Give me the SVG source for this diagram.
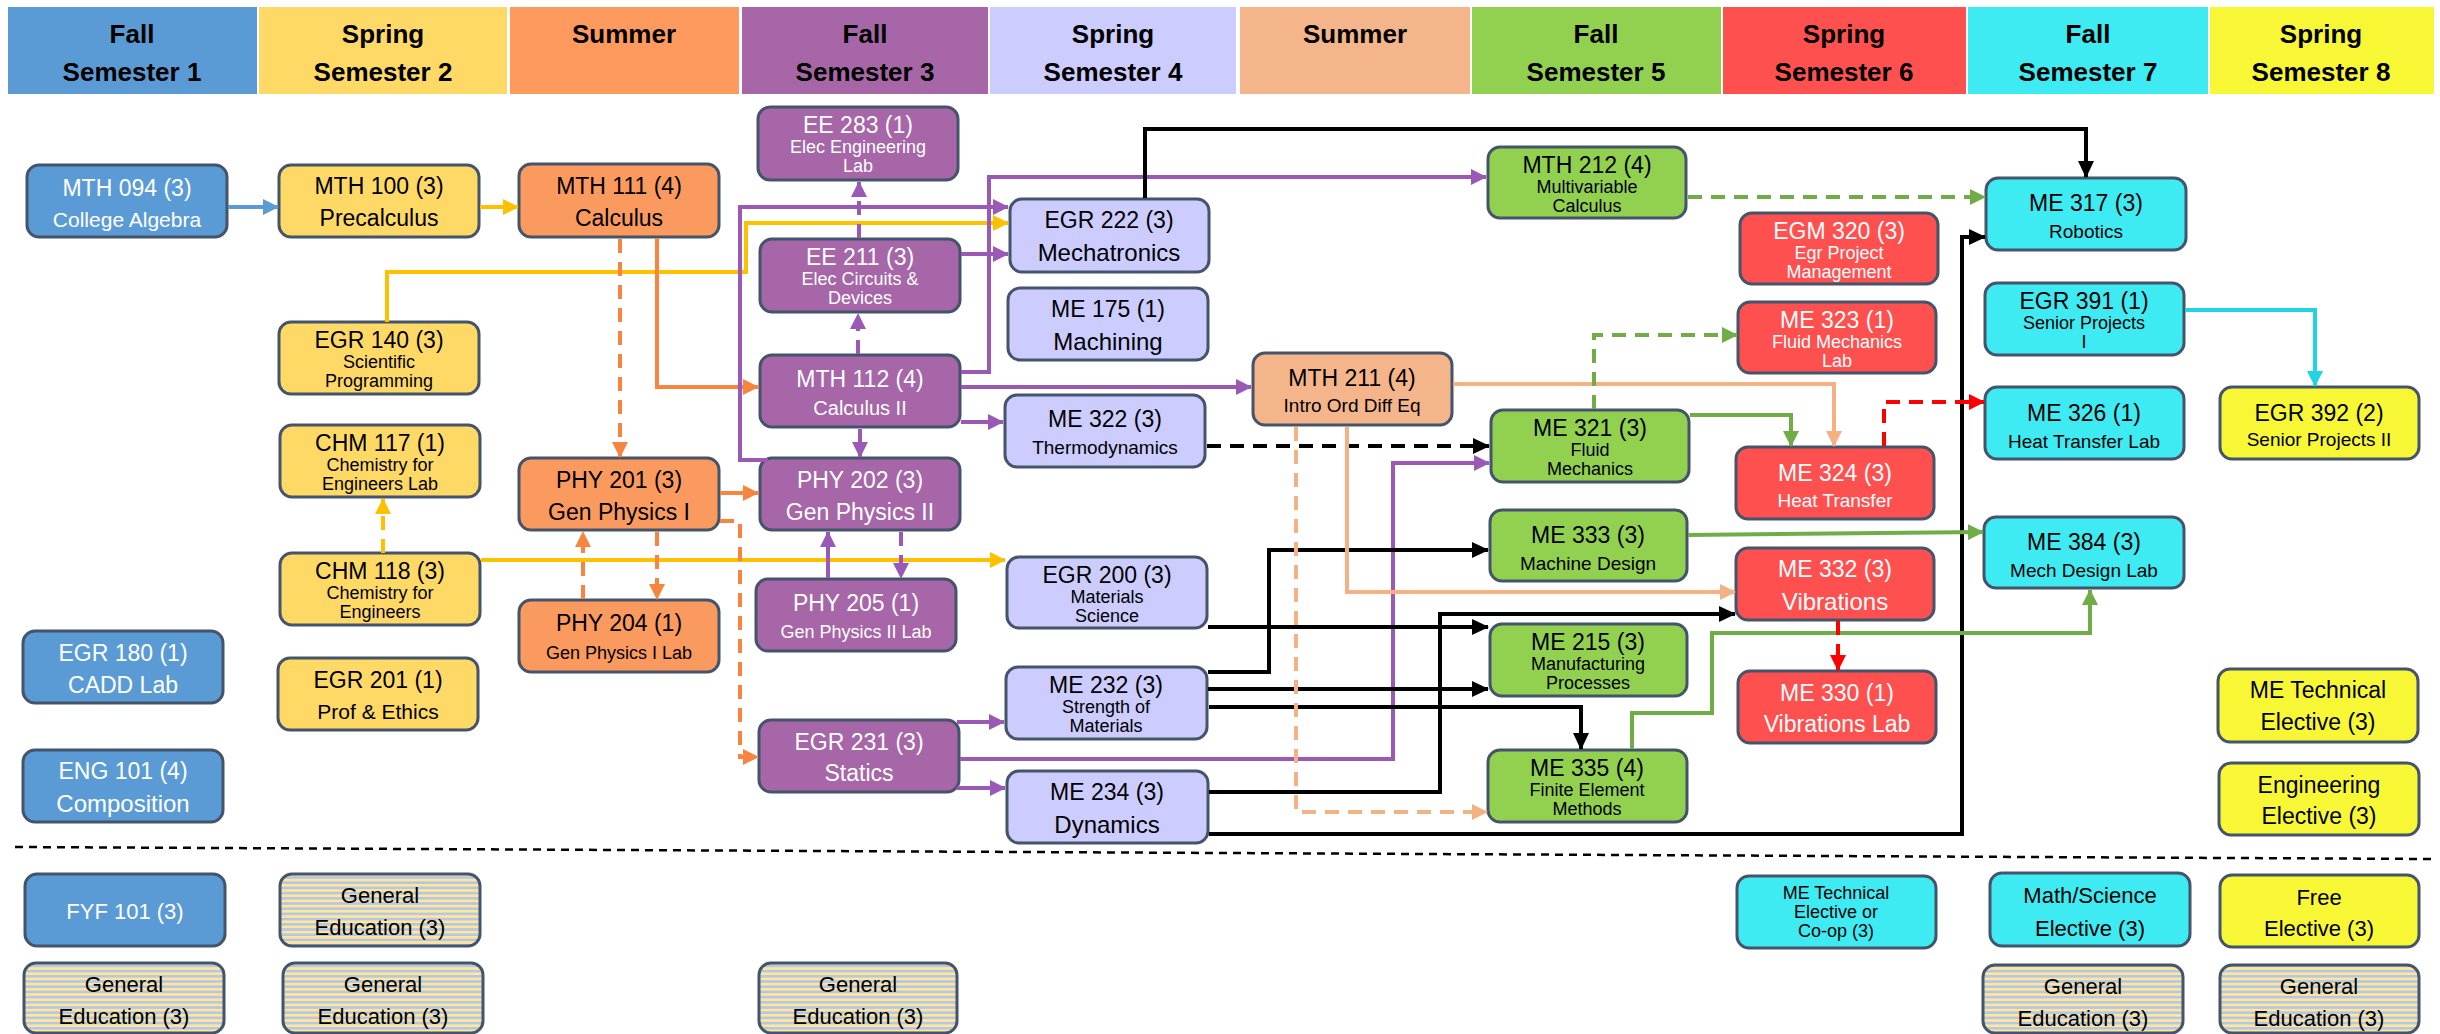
<svg xmlns="http://www.w3.org/2000/svg" width="2440" height="1034" viewBox="0 0 2440 1034">
<style>
text{font-family:"Liberation Sans",Arial,sans-serif;text-anchor:middle;dominant-baseline:central}
.hd{font-weight:bold;font-size:26px;fill:#000}
.n{stroke:#44546A;stroke-width:3}
.t{font-size:23px}
.w{fill:#fff}
.k{fill:#000}
.blue{fill:#5B9BD5}.yel{fill:#FFD966}.org{fill:#FB9A5E}.pur{fill:#A666A8}.lav{fill:#CCCCFF}
.lor{fill:#F4B58A}.grn{fill:#92D050}.red{fill:#FF5050}.cyn{fill:#3EEBF3}.yl8{fill:#F7F736}.gen{fill:url(#stripes)}
.c{fill:none;stroke-width:4}
.d{stroke-dasharray:14 9}
.cB{stroke:#5B9BD5}.cY{stroke:#FFC000}.cO{stroke:#F7843F}.cP{stroke:#9B59B6}.cK{stroke:#000}
.cL{stroke:#F4B183}.cG{stroke:#70AD47}.cR{stroke:#FF0000}.cC{stroke:#22D3E3}
</style>
<defs>
<pattern id="stripes" width="8" height="5.2" patternUnits="userSpaceOnUse"><rect width="8" height="5.2" fill="#FFE699"/><rect y="2.6" width="8" height="2.6" fill="#B4C7E7"/></pattern>
<marker id="aB" markerWidth="16" markerHeight="16" refX="15" refY="8" orient="auto" markerUnits="userSpaceOnUse"><path d="M0,0 L16,8 L0,16 Z" fill="#5B9BD5"/></marker>
<marker id="aY" markerWidth="16" markerHeight="16" refX="15" refY="8" orient="auto" markerUnits="userSpaceOnUse"><path d="M0,0 L16,8 L0,16 Z" fill="#FFC000"/></marker>
<marker id="aO" markerWidth="16" markerHeight="16" refX="15" refY="8" orient="auto" markerUnits="userSpaceOnUse"><path d="M0,0 L16,8 L0,16 Z" fill="#F7843F"/></marker>
<marker id="aP" markerWidth="16" markerHeight="16" refX="15" refY="8" orient="auto" markerUnits="userSpaceOnUse"><path d="M0,0 L16,8 L0,16 Z" fill="#9B59B6"/></marker>
<marker id="aK" markerWidth="17" markerHeight="16" refX="16" refY="8" orient="auto" markerUnits="userSpaceOnUse"><path d="M0,0 L17,8 L0,16 Z" fill="#000"/></marker>
<marker id="aL" markerWidth="16" markerHeight="16" refX="15" refY="8" orient="auto" markerUnits="userSpaceOnUse"><path d="M0,0 L16,8 L0,16 Z" fill="#F4B183"/></marker>
<marker id="aG" markerWidth="16" markerHeight="16" refX="15" refY="8" orient="auto" markerUnits="userSpaceOnUse"><path d="M0,0 L16,8 L0,16 Z" fill="#70AD47"/></marker>
<marker id="aR" markerWidth="16" markerHeight="16" refX="15" refY="8" orient="auto" markerUnits="userSpaceOnUse"><path d="M0,0 L16,8 L0,16 Z" fill="#FF0000"/></marker>
<marker id="aC" markerWidth="16" markerHeight="16" refX="15" refY="8" orient="auto" markerUnits="userSpaceOnUse"><path d="M0,0 L16,8 L0,16 Z" fill="#22D3E3"/></marker>
</defs>
<rect width="2440" height="1034" fill="#fff"/>
<g id="header">
<rect x="8" y="7" width="249" height="87" fill="#5B9BD5"/>
<rect x="259" y="7" width="248" height="87" fill="#FFD966"/>
<rect x="510" y="7" width="229" height="87" fill="#FF9A5E"/>
<rect x="742" y="7" width="246" height="87" fill="#A666A8"/>
<rect x="990" y="7" width="246" height="87" fill="#CCCCFF"/>
<rect x="1240" y="7" width="230" height="87" fill="#F4B58A"/>
<rect x="1472" y="7" width="249" height="87" fill="#92D050"/>
<rect x="1723" y="7" width="243" height="87" fill="#FF5050"/>
<rect x="1968" y="7" width="240" height="87" fill="#3EEBF3"/>
<rect x="2210" y="7" width="224" height="87" fill="#F7F736"/>
<text class="hd" x="132" y="34">Fall</text><text class="hd" x="132" y="72">Semester 1</text>
<text class="hd" x="383" y="34">Spring</text><text class="hd" x="383" y="72">Semester 2</text>
<text class="hd" x="624" y="34">Summer</text>
<text class="hd" x="865" y="34">Fall</text><text class="hd" x="865" y="72">Semester 3</text>
<text class="hd" x="1113" y="34">Spring</text><text class="hd" x="1113" y="72">Semester 4</text>
<text class="hd" x="1355" y="34">Summer</text>
<text class="hd" x="1596" y="34">Fall</text><text class="hd" x="1596" y="72">Semester 5</text>
<text class="hd" x="1844" y="34">Spring</text><text class="hd" x="1844" y="72">Semester 6</text>
<text class="hd" x="2088" y="34">Fall</text><text class="hd" x="2088" y="72">Semester 7</text>
<text class="hd" x="2321" y="34">Spring</text><text class="hd" x="2321" y="72">Semester 8</text>
</g>
<line id="separator" x1="15" y1="847" x2="2432" y2="859" stroke="#000" stroke-width="2.5" stroke-dasharray="8 6"/>

<!-- Semester 1 -->
<g id="MTH094"><rect class="n blue" x="27" y="165" width="200" height="72" rx="12"/><text class="t w" x="127" y="188">MTH 094 (3)</text><text class="w" style="font-size:21px" x="127" y="219">College Algebra</text></g>
<g id="EGR180"><rect class="n blue" x="23" y="631" width="200" height="72" rx="12"/><text class="t w" x="123" y="653">EGR 180 (1)</text><text class="w" style="font-size:23px" x="123" y="685">CADD Lab</text></g>
<g id="ENG101"><rect class="n blue" x="23" y="750" width="200" height="72" rx="12"/><text class="t w" x="123" y="771">ENG 101 (4)</text><text class="w" style="font-size:24px" x="123" y="803">Composition</text></g>
<g id="FYF101"><rect class="n blue" x="25" y="874" width="200" height="72" rx="12"/><text class="w" style="font-size:22px" x="125" y="911">FYF 101 (3)</text></g>
<g id="GenEd1"><rect class="n gen" x="24" y="963" width="200" height="70" rx="12"/><text class="k" style="font-size:22px" x="124" y="984">General</text><text class="k" style="font-size:22px" x="124" y="1016">Education (3)</text></g>

<!-- Semester 2 -->
<g id="MTH100"><rect class="n yel" x="279" y="165" width="200" height="72" rx="12"/><text class="t k" x="379" y="186">MTH 100 (3)</text><text class="k" style="font-size:23px" x="379" y="218">Precalculus</text></g>
<g id="EGR140"><rect class="n yel" x="279" y="322" width="200" height="72" rx="12"/><text class="t k" x="379" y="340">EGR 140 (3)</text><text class="k" style="font-size:18px" x="379" y="362">Scientific</text><text class="k" style="font-size:18px" x="379" y="381">Programming</text></g>
<g id="CHM117"><rect class="n yel" x="280" y="425" width="200" height="72" rx="12"/><text class="t k" x="380" y="443">CHM 117 (1)</text><text class="k" style="font-size:18px" x="380" y="465">Chemistry for</text><text class="k" style="font-size:18px" x="380" y="484">Engineers Lab</text></g>
<g id="CHM118"><rect class="n yel" x="280" y="553" width="200" height="72" rx="12"/><text class="t k" x="380" y="571">CHM 118 (3)</text><text class="k" style="font-size:18px" x="380" y="593">Chemistry for</text><text class="k" style="font-size:18px" x="380" y="612">Engineers</text></g>
<g id="EGR201"><rect class="n yel" x="278" y="658" width="200" height="72" rx="12"/><text class="t k" x="378" y="680">EGR 201 (1)</text><text class="k" style="font-size:21px" x="378" y="711">Prof &amp; Ethics</text></g>
<g id="GenEd2"><rect class="n gen" x="280" y="874" width="200" height="72" rx="12"/><text class="k" style="font-size:22px" x="380" y="895">General</text><text class="k" style="font-size:22px" x="380" y="927">Education (3)</text></g>
<g id="GenEd3"><rect class="n gen" x="283" y="963" width="200" height="70" rx="12"/><text class="k" style="font-size:22px" x="383" y="984">General</text><text class="k" style="font-size:22px" x="383" y="1016">Education (3)</text></g>

<!-- Summer 1 -->
<g id="MTH111"><rect class="n org" x="519" y="164" width="200" height="73" rx="12"/><text class="t k" x="619" y="186">MTH 111 (4)</text><text class="k" style="font-size:23px" x="619" y="218">Calculus</text></g>
<g id="PHY201"><rect class="n org" x="519" y="458" width="200" height="72" rx="12"/><text class="t k" x="619" y="480">PHY 201 (3)</text><text class="k" style="font-size:23px" x="619" y="512">Gen Physics I</text></g>
<g id="PHY204"><rect class="n org" x="519" y="600" width="200" height="72" rx="12"/><text class="t k" x="619" y="623">PHY 204 (1)</text><text class="k" style="font-size:18px" x="619" y="653">Gen Physics I Lab</text></g>

<!-- Semester 3 -->
<g id="EE283"><rect class="n pur" x="758" y="107" width="200" height="73" rx="12"/><text class="t w" x="858" y="125">EE 283 (1)</text><text class="w" style="font-size:18px" x="858" y="147">Elec Engineering</text><text class="w" style="font-size:18px" x="858" y="166">Lab</text></g>
<g id="EE211"><rect class="n pur" x="760" y="239" width="200" height="73" rx="12"/><text class="t w" x="860" y="257">EE 211 (3)</text><text class="w" style="font-size:18px" x="860" y="279">Elec Circuits &amp;</text><text class="w" style="font-size:18px" x="860" y="298">Devices</text></g>
<g id="MTH112"><rect class="n pur" x="760" y="355" width="200" height="72" rx="12"/><text class="t w" x="860" y="379">MTH 112 (4)</text><text class="w" style="font-size:20px" x="860" y="408">Calculus II</text></g>
<g id="PHY202"><rect class="n pur" x="760" y="458" width="200" height="72" rx="12"/><text class="t w" x="860" y="480">PHY 202 (3)</text><text class="w" style="font-size:23px" x="860" y="512">Gen Physics II</text></g>
<g id="PHY205"><rect class="n pur" x="756" y="579" width="200" height="72" rx="12"/><text class="t w" x="856" y="603">PHY 205 (1)</text><text class="w" style="font-size:18px" x="856" y="632">Gen Physics II Lab</text></g>
<g id="EGR231"><rect class="n pur" x="759" y="720" width="200" height="72" rx="12"/><text class="t w" x="859" y="742">EGR 231 (3)</text><text class="w" style="font-size:23px" x="859" y="773">Statics</text></g>
<g id="GenEd4"><rect class="n gen" x="759" y="963" width="198" height="70" rx="12"/><text class="k" style="font-size:22px" x="858" y="984">General</text><text class="k" style="font-size:22px" x="858" y="1016">Education (3)</text></g>

<!-- Semester 4 -->
<g id="EGR222"><rect class="n lav" x="1010" y="199" width="199" height="73" rx="12"/><text class="t k" x="1109" y="220">EGR 222 (3)</text><text class="k" style="font-size:24px" x="1109" y="252">Mechatronics</text></g>
<g id="ME175"><rect class="n lav" x="1008" y="288" width="200" height="72" rx="12"/><text class="t k" x="1108" y="309">ME 175 (1)</text><text class="k" style="font-size:24px" x="1108" y="341">Machining</text></g>
<g id="ME322"><rect class="n lav" x="1005" y="395" width="200" height="72" rx="12"/><text class="t k" x="1105" y="419">ME 322 (3)</text><text class="k" style="font-size:19px" x="1105" y="447">Thermodynamics</text></g>
<g id="EGR200"><rect class="n lav" x="1007" y="557" width="200" height="71" rx="12"/><text class="t k" x="1107" y="575">EGR 200 (3)</text><text class="k" style="font-size:18px" x="1107" y="597">Materials</text><text class="k" style="font-size:18px" x="1107" y="616">Science</text></g>
<g id="ME232"><rect class="n lav" x="1006" y="667" width="201" height="72" rx="12"/><text class="t k" x="1106" y="685">ME 232 (3)</text><text class="k" style="font-size:18px" x="1106" y="707">Strength of</text><text class="k" style="font-size:18px" x="1106" y="726">Materials</text></g>
<g id="ME234"><rect class="n lav" x="1007" y="771" width="201" height="72" rx="12"/><text class="t k" x="1107" y="792">ME 234 (3)</text><text class="k" style="font-size:24px" x="1107" y="824">Dynamics</text></g>

<!-- Summer 2 -->
<g id="MTH211"><rect class="n lor" x="1253" y="353" width="199" height="72" rx="12"/><text class="t k" x="1352" y="378">MTH 211 (4)</text><text class="k" style="font-size:19px" x="1352" y="405">Intro Ord Diff Eq</text></g>

<!-- Semester 5 -->
<g id="MTH212"><rect class="n grn" x="1488" y="147" width="198" height="71" rx="12"/><text class="t k" x="1587" y="165">MTH 212 (4)</text><text class="k" style="font-size:18px" x="1587" y="187">Multivariable</text><text class="k" style="font-size:18px" x="1587" y="206">Calculus</text></g>
<g id="ME321"><rect class="n grn" x="1491" y="410" width="198" height="72" rx="12"/><text class="t k" x="1590" y="428">ME 321 (3)</text><text class="k" style="font-size:18px" x="1590" y="450">Fluid</text><text class="k" style="font-size:18px" x="1590" y="469">Mechanics</text></g>
<g id="ME333"><rect class="n grn" x="1490" y="510" width="197" height="71" rx="12"/><text class="t k" x="1588" y="535">ME 333 (3)</text><text class="k" style="font-size:19px" x="1588" y="563">Machine Design</text></g>
<g id="ME215"><rect class="n grn" x="1490" y="624" width="197" height="72" rx="12"/><text class="t k" x="1588" y="642">ME 215 (3)</text><text class="k" style="font-size:18px" x="1588" y="664">Manufacturing</text><text class="k" style="font-size:18px" x="1588" y="683">Processes</text></g>
<g id="ME335"><rect class="n grn" x="1488" y="750" width="199" height="72" rx="12"/><text class="t k" x="1587" y="768">ME 335 (4)</text><text class="k" style="font-size:18px" x="1587" y="790">Finite Element</text><text class="k" style="font-size:18px" x="1587" y="809">Methods</text></g>

<!-- Semester 6 -->
<g id="EGM320"><rect class="n red" x="1740" y="213" width="198" height="71" rx="12"/><text class="t w" x="1839" y="231">EGM 320 (3)</text><text class="w" style="font-size:18px" x="1839" y="253">Egr Project</text><text class="w" style="font-size:18px" x="1839" y="272">Management</text></g>
<g id="ME323"><rect class="n red" x="1738" y="302" width="198" height="71" rx="12"/><text class="t w" x="1837" y="320">ME 323 (1)</text><text class="w" style="font-size:18px" x="1837" y="342">Fluid Mechanics</text><text class="w" style="font-size:18px" x="1837" y="361">Lab</text></g>
<g id="ME324"><rect class="n red" x="1736" y="447" width="198" height="72" rx="12"/><text class="t w" x="1835" y="473">ME 324 (3)</text><text class="w" style="font-size:19px" x="1835" y="500">Heat Transfer</text></g>
<g id="ME332"><rect class="n red" x="1736" y="548" width="198" height="72" rx="12"/><text class="t w" x="1835" y="569">ME 332 (3)</text><text class="w" style="font-size:24px" x="1835" y="601">Vibrations</text></g>
<g id="ME330"><rect class="n red" x="1738" y="671" width="198" height="72" rx="12"/><text class="t w" x="1837" y="693">ME 330 (1)</text><text class="w" style="font-size:23px" x="1837" y="724">Vibrations Lab</text></g>
<g id="METechCoop"><rect class="n cyn" x="1737" y="876" width="199" height="72" rx="12"/><text class="k" style="font-size:18px" x="1836" y="893">ME Technical</text><text class="k" style="font-size:18px" x="1836" y="912">Elective or</text><text class="k" style="font-size:18px" x="1836" y="931">Co-op (3)</text></g>

<!-- Semester 7 -->
<g id="ME317"><rect class="n cyn" x="1986" y="178" width="200" height="72" rx="12"/><text class="t k" x="2086" y="203">ME 317 (3)</text><text class="k" style="font-size:19px" x="2086" y="231">Robotics</text></g>
<g id="EGR391"><rect class="n cyn" x="1985" y="283" width="199" height="72" rx="12"/><text class="t k" x="2084" y="301">EGR 391 (1)</text><text class="k" style="font-size:18px" x="2084" y="323">Senior Projects</text><text class="k" style="font-size:18px" x="2084" y="342">I</text></g>
<g id="ME326"><rect class="n cyn" x="1985" y="387" width="199" height="72" rx="12"/><text class="t k" x="2084" y="413">ME 326 (1)</text><text class="k" style="font-size:19px" x="2084" y="441">Heat Transfer Lab</text></g>
<g id="ME384"><rect class="n cyn" x="1984" y="517" width="200" height="71" rx="12"/><text class="t k" x="2084" y="542">ME 384 (3)</text><text class="k" style="font-size:19px" x="2084" y="570">Mech Design Lab</text></g>
<g id="MathSci"><rect class="n cyn" x="1990" y="873" width="200" height="73" rx="12"/><text class="k" style="font-size:22px" x="2090" y="895">Math/Science</text><text class="k" style="font-size:22px" x="2090" y="928">Elective (3)</text></g>
<g id="GenEd5"><rect class="n gen" x="1983" y="965" width="200" height="68" rx="12"/><text class="k" style="font-size:22px" x="2083" y="986">General</text><text class="k" style="font-size:22px" x="2083" y="1018">Education (3)</text></g>

<!-- Semester 8 -->
<g id="EGR392"><rect class="n yl8" x="2220" y="387" width="199" height="72" rx="12"/><text class="t k" x="2319" y="413">EGR 392 (2)</text><text class="k" style="font-size:19px" x="2319" y="439">Senior Projects II</text></g>
<g id="METech"><rect class="n yl8" x="2218" y="669" width="200" height="73" rx="12"/><text class="k" style="font-size:23px" x="2318" y="690">ME Technical</text><text class="k" style="font-size:23px" x="2318" y="722">Elective (3)</text></g>
<g id="EngElec"><rect class="n yl8" x="2219" y="763" width="200" height="72" rx="12"/><text class="k" style="font-size:23px" x="2319" y="785">Engineering</text><text class="k" style="font-size:23px" x="2319" y="816">Elective (3)</text></g>
<g id="FreeElec"><rect class="n yl8" x="2220" y="875" width="199" height="72" rx="12"/><text class="k" style="font-size:22px" x="2319" y="897">Free</text><text class="k" style="font-size:22px" x="2319" y="928">Elective (3)</text></g>
<g id="GenEd6"><rect class="n gen" x="2220" y="965" width="199" height="68" rx="12"/><text class="k" style="font-size:22px" x="2319" y="986">General</text><text class="k" style="font-size:22px" x="2319" y="1018">Education (3)</text></g>

<g id="connectors">
<path class="c cB" d="M228,207 H278" marker-end="url(#aB)"/>
<path class="c cY" d="M480,207 H518" marker-end="url(#aY)"/>
<path class="c cY" d="M387,322 V272 H746 V223 H1008" marker-end="url(#aY)"/>
<path class="c cY d" d="M383,553 V499" marker-end="url(#aY)"/>
<path class="c cY" d="M481,560 H1005" marker-end="url(#aY)"/>
<path class="c cO d" d="M620,239 V457" marker-end="url(#aO)"/>
<path class="c cO" d="M657,238 V387 H758" marker-end="url(#aO)"/>
<path class="c cO" d="M720,493 H758" marker-end="url(#aO)"/>
<path class="c cO d" d="M720,521 H740 V757 H758" marker-end="url(#aO)"/>
<path class="c cO d" d="M583,599 V532" marker-end="url(#aO)"/>
<path class="c cO d" d="M657,532 V599" marker-end="url(#aO)"/>
<path class="c cP" d="M768,460 H740 V207 H1008" marker-end="url(#aP)"/>
<path class="c cP d" d="M859,238 V182" marker-end="url(#aP)"/>
<path class="c cP d" d="M858,354 V314" marker-end="url(#aP)"/>
<path class="c cP" d="M961,254 H1008" marker-end="url(#aP)"/>
<path class="c cP" d="M961,372 H989 V177 H1486" marker-end="url(#aP)"/>
<path class="c cP" d="M961,387 H1251" marker-end="url(#aP)"/>
<path class="c cP" d="M961,422 H1003" marker-end="url(#aP)"/>
<path class="c cP d" d="M860,429 V457" marker-end="url(#aP)"/>
<path class="c cP" d="M828,578 V532" marker-end="url(#aP)"/>
<path class="c cP d" d="M901,532 V578" marker-end="url(#aP)"/>
<path class="c cP" d="M957,722 H1004" marker-end="url(#aP)"/>
<path class="c cP" d="M957,788 H1005" marker-end="url(#aP)"/>
<path class="c cP" d="M960,759 H1393 V463 H1489" marker-end="url(#aP)"/>
<path class="c cK" d="M1145,198 V129 H2086 V177" marker-end="url(#aK)"/>
<path class="c cK d" d="M1207,446 H1489" marker-end="url(#aK)"/>
<path class="c cK" d="M1208,672 H1269 V550 H1488" marker-end="url(#aK)"/>
<path class="c cK" d="M1208,627 H1488" marker-end="url(#aK)"/>
<path class="c cK" d="M1208,689 H1488" marker-end="url(#aK)"/>
<path class="c cK" d="M1209,707 H1581 V749" marker-end="url(#aK)"/>
<path class="c cK" d="M1209,792 H1440 V614 H1735" marker-end="url(#aK)"/>
<path class="c cK" d="M1209,834 H1962 V237 H1985" marker-end="url(#aK)"/>
<path class="c cL" d="M1453,384 H1834 V446" marker-end="url(#aL)"/>
<path class="c cL" d="M1347,427 V592 H1735" marker-end="url(#aL)"/>
<path class="c cL d" d="M1296,427 V812 H1487" marker-end="url(#aL)"/>
<path class="c cG d" d="M1688,197 H1985" marker-end="url(#aG)"/>
<path class="c cG d" d="M1594,409 V335 H1737" marker-end="url(#aG)"/>
<path class="c cG" d="M1690,415 H1791 V446" marker-end="url(#aG)"/>
<path class="c cG" d="M1688,535 L1983,532" marker-end="url(#aG)"/>
<path class="c cG" d="M1632,749 V713 H1712 V633 H2090 V590" marker-end="url(#aG)"/>
<path class="c cR d" d="M1884,446 V402 H1984" marker-end="url(#aR)"/>
<path class="c cR d" d="M1838,621 V670" marker-end="url(#aR)"/>
<path class="c cC" d="M2185,310 H2315 V386" marker-end="url(#aC)"/>
</g>
</svg>
